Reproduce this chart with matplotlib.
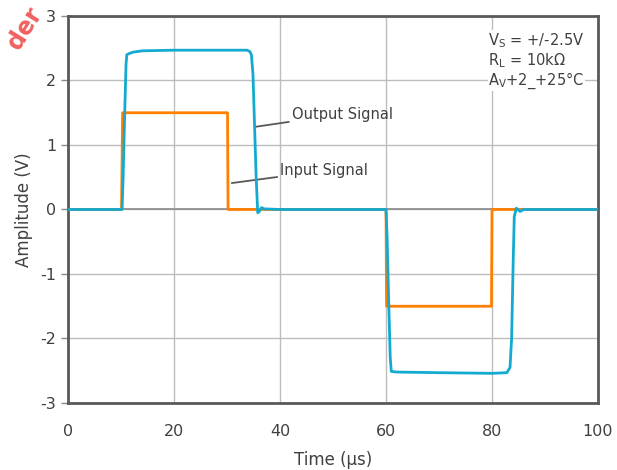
import matplotlib
matplotlib.use("Agg")
import matplotlib.pyplot as plt

plt.rcParams['font.family'] = ['DejaVu Sans']
plt.rcParams['mathtext.default'] = 'regular'
plt.rcParams['axes.unicode_minus'] = False

# input square wave (us, V)
t_in = [0, 10.1, 10.3, 30.1, 30.2, 60.0, 60.1, 79.9, 80.0, 100]
v_in = [0, 0, 1.5, 1.5, 0, 0, -1.5, -1.5, 0, 0]

# output signal (us, V)
t_out = [0, 5, 10.2, 10.4, 10.7, 10.95, 11.1, 11.6, 12.3, 14, 20, 30, 33.8, 34.3,
         34.6, 34.9, 35.2, 35.5, 35.8, 36.1, 36.5, 37, 40, 50, 60.0, 60.2, 60.5,
         60.8, 61.0, 62, 70, 80, 82.8, 83.4, 83.7, 84.0, 84.2, 84.6, 85.3, 86, 100]
v_out = [0, 0, 0, 0.5, 1.5, 2.25, 2.40, 2.42, 2.44, 2.46, 2.47, 2.47, 2.47, 2.45,
         2.40, 2.1, 1.3, 0.5, -0.05, -0.03, 0.03, 0.01, 0.0, 0.0, 0.0, -0.4, -1.4,
         -2.3, -2.51, -2.52, -2.53, -2.54, -2.53, -2.45, -2.0, -0.8, -0.11, 0.02, -0.03, 0.0, 0.0]

fig = plt.figure(figsize=(6.17, 4.70), dpi=100)
ax = fig.add_axes([68/617, 1 - 403/470, 530/617, 387/470])

ax.plot(t_in, v_in, color='#FF8000', linewidth=2, zorder=3)
ax.plot(t_out, v_out, color='#14AACF', linewidth=2, zorder=4)

ax.set_xlim(0, 100)
ax.set_ylim(-3, 3)
ax.set_xticks(range(0, 101, 20))
ax.set_yticks(range(-3, 4))
ax.grid(True, color='#BDBDBD', linewidth=1)
ax.axhline(0, color='#8A8A8A', linewidth=1.2, zorder=2)
ax.set_axisbelow(True)
for s in ax.spines.values():
    s.set_color('#595959')
    s.set_linewidth(2)
ax.tick_params(colors='#8A8A8A', labelcolor='#404040', labelsize=11.5, length=5, width=1)
ax.tick_params(axis='x', length=0, pad=15)

ax.set_xlabel('Time (µs)', fontsize=12, color='#404040', labelpad=9)
ax.set_ylabel('Amplitude (V)', fontsize=12, color='#404040', labelpad=5)

# annotations
ax.annotate('Output Signal', xy=(35.2, 1.28), xytext=(42.2, 1.48),
            fontsize=10.5, color='#404040', va='center',
            arrowprops=dict(arrowstyle='-', color='#595959', lw=1.3, shrinkA=0, shrinkB=0))
ax.annotate('Input Signal', xy=(30.9, 0.41), xytext=(40.0, 0.60),
            fontsize=10.5, color='#404040', va='center',
            arrowprops=dict(arrowstyle='-', color='#595959', lw=1.3, shrinkA=0, shrinkB=0))

cond = ['V$_S$ = +/-2.5V', 'R$_L$ = 10kΩ', 'A$_V$+2_+25°C']
for i, s in enumerate(cond):
    ax.text(79.3, 2.62 - i * 0.31, s, fontsize=10.5, color='#404040', va='center',
            bbox=dict(facecolor='white', edgecolor='none', pad=0.5))

# watermark (cut off at the corner, as in the source)
fig.text(0.004, 1 - 54/470, 'der', rotation=58, fontsize=17, fontweight='bold',
         color='#F26060', ha='left', va='bottom')

fig.savefig('out.png', dpi=100)
